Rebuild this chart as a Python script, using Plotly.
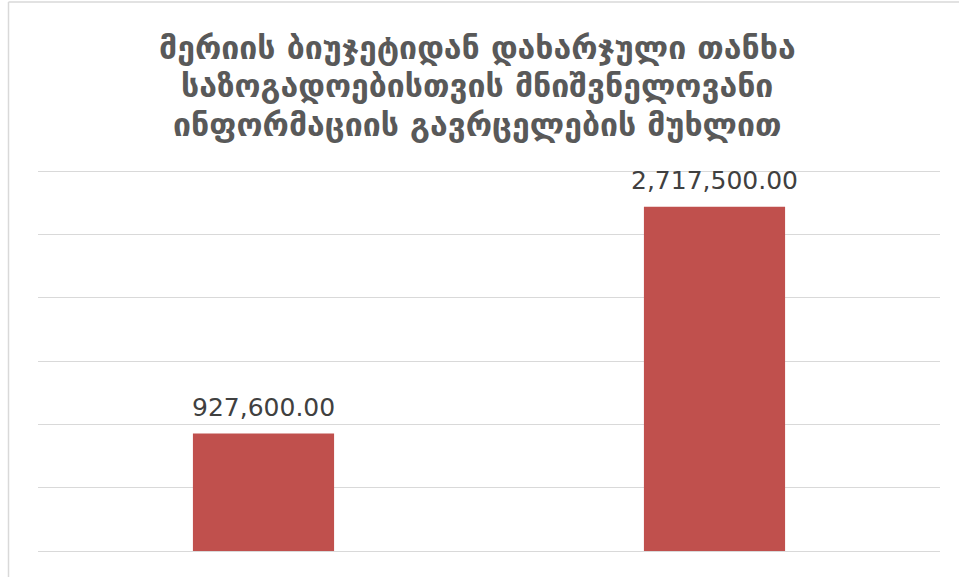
import plotly.graph_objects as go

categories = ["A", "B"]
values = [927600.00, 2717500.00]
labels = ["927,600.00", "2,717,500.00"]
title_lines = [
    "მერიის ბიუჯეტიდან დახარჯული თანხა",
    "საზოგადოებისთვის მნიშვნელოვანი",
    "ინფორმაციის გავრცელების მუხლით",
]
y_ticks = [0, 500000, 1000000, 1500000, 2000000, 2500000, 3000000]

W, H = 959, 577
ml, mr, mt, mb = 38, 19, 169, 24
pw, ph = W - ml - mr, H - mt - mb
pad = 3000000 / 380 * 2

fig = go.Figure()
fig.add_trace(go.Bar(
    x=categories, y=values,
    marker=dict(color="#C0504D", line=dict(width=0)),
    hoverinfo="skip",
))

for c, v, t in zip(categories, values, labels):
    fig.add_annotation(x=c, y=v, text=t, showarrow=False, xanchor="center", yanchor="bottom",
                       yshift=10, font=dict(family="DejaVu Sans", size=25, color="#404040"))

baselines = [60, 98, 137]
for line, b in zip(title_lines, baselines):
    fig.add_annotation(text=line, xref="paper", yref="paper", showarrow=False,
                       x=(477 - ml) / pw, xanchor="center",
                       y=(H - mb - (b - 12)) / ph, yanchor="middle",
                       font=dict(family="DejaVu Sans", size=32, color="#595959", weight="bold"))

fig.update_layout(
    width=W, height=H,
    margin=dict(l=ml, r=mr, t=mt, b=mb),
    paper_bgcolor="white", plot_bgcolor="white",
    bargap=0.687,
    showlegend=False,
    xaxis=dict(showticklabels=False, showgrid=False, zeroline=False, showline=False, ticks=""),
    yaxis=dict(range=[-pad, 3000000 + pad], tickvals=y_ticks, showticklabels=False,
               showgrid=True, gridcolor="#D9D9D9", gridwidth=1.3,
               zeroline=False, showline=False, ticks=""),
)

bx = (8.5 - ml) / pw
ty = (H - mb - 2) / ph
fig.add_shape(type="line", xref="paper", yref="paper", x0=bx, x1=bx, y0=-0.2, y1=ty,
              line=dict(color="#D9D9D9", width=1.5))
fig.add_shape(type="line", xref="paper", yref="paper", x0=bx, x1=1.1, y0=ty, y1=ty,
              line=dict(color="#D9D9D9", width=1.5))

fig.write_html("out.html", config={"displayModeBar": False},
               post_script="document.body.style.margin='0';document.body.style.overflow='hidden';")
